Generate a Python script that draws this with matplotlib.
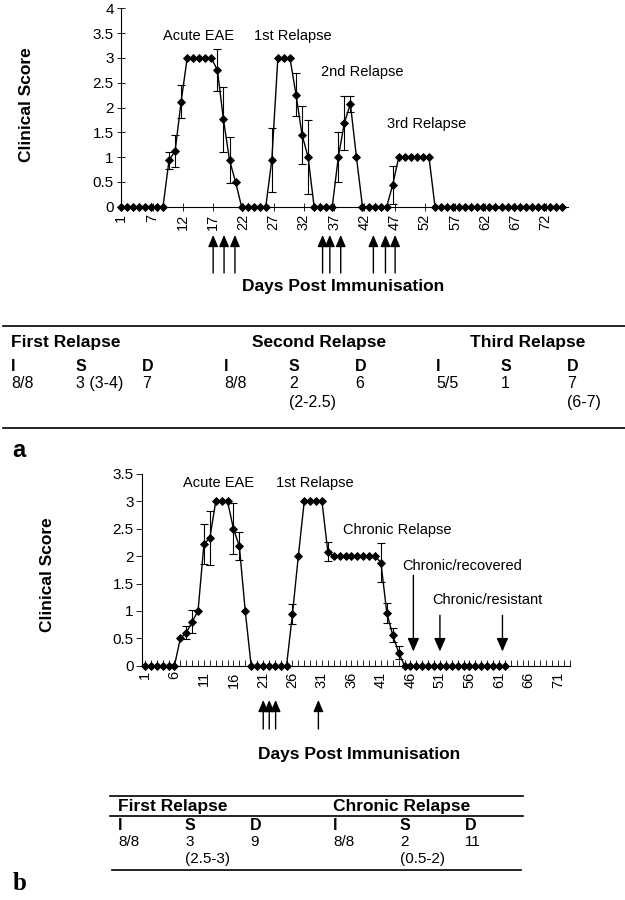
import matplotlib
matplotlib.use("Agg")
import matplotlib.pyplot as plt
import numpy as np
from matplotlib.lines import Line2D

plt.rcParams['font.family'] = ['Liberation Sans', 'DejaVu Sans']

# ---- panel a : mean clinical score, one point per day ----
score_a = ([0] * 8 + [0.94, 1.12, 2.12] + [3] * 5 + [2.75, 1.76, 0.94, 0.5] +
           [0] * 5 + [0.94] + [3] * 3 + [2.26, 1.45, 1.0] + [0] * 4 +
           [1.0, 1.69, 2.07, 1.0] + [0] * 5 + [0.44] + [1.0] * 6 + [0] * 22)
err_day_a = [9, 10, 11, 17, 18, 19, 26, 30, 31, 32, 37, 38, 39, 46]
err_val_a = [0.17, 0.32, 0.33, 0.42, 0.65, 0.47, 0.64, 0.43, 0.58, 0.75, 0.5, 0.55, 0.16, 0.39]
xlabels_a = ['1', '7', '12', '17', '22', '27', '32', '37', '42', '47', '52', '57', '62', '67', '72']
arrows_a = [16.3, 18.1, 19.9, 34.4, 35.6, 37.4, 42.8, 44.8, 46.4]
notes_a = [('Acute EAE', 13.8, 3.44), ('1st Relapse', 29.4, 3.44),
           ('2nd Relapse', 41.0, 2.72), ('3rd Relapse', 51.6, 1.67)]

# ---- panel b ----
score_b = ([0] * 6 + [0.5, 0.6, 0.8, 1.0, 2.22, 2.33] + [3] * 3 + [2.5, 2.18, 1.0] +
           [0] * 7 + [0.94, 2.0] + [3] * 4 + [2.08] + [2.0] * 8 +
           [1.88, 0.96, 0.56, 0.24] + [0] * 18)
err_day_b = [8, 9, 11, 12, 16, 17, 26, 32, 41, 42, 43, 44]
err_val_b = [0.12, 0.21, 0.36, 0.49, 0.46, 0.26, 0.18, 0.17, 0.35, 0.18, 0.12, 0.12]
xlabels_b = [str(d) for d in range(1, 72, 5)]
arrows_up_b = [21.05, 22.07, 23.15, 30.4]
arrows_down_b = [(46.5, 1.65), (51.0, 0.92), (61.6, 0.92)]
notes_b = [('Acute EAE', 13.4, 3.33), ('1st Relapse', 29.8, 3.33),
           ('Chronic Relapse', 43.8, 2.48), ('Chronic/recovered', 54.7, 1.82),
           ('Chronic/resistant', 59.1, 1.19)]

# tables
tab_a_head = ['First Relapse', 'Second Relapse', 'Third Relapse']
tab_a_vals = [['8/8', '3 (3-4)', '7'], ['8/8', '2\n(2-2.5)', '6'], ['5/5', '1', '7\n(6-7)']]
tab_b_head = ['First Relapse', 'Chronic Relapse']
tab_b_vals = [['8/8', '3\n(2.5-3)', '9'], ['8/8', '2\n(0.5-2)', '11']]

W, H = 625, 900
fig = plt.figure(figsize=(6.25, 9), dpi=100)


def fx(px):
    return px / W


def fy(py):
    return 1 - py / H


def fmt(v):
    return ('%g' % v)


def draw_series(ax, score, err_day, err_val):
    days = np.arange(1, len(score) + 1)
    ax.plot(days, score, color='black', lw=1.0, marker='D', ms=3.7, mew=0.6,
            clip_on=False, zorder=3)
    ey = [score[d - 1] for d in err_day]
    ax.errorbar(err_day, ey, yerr=err_val, fmt='none', ecolor='black',
                elinewidth=0.8, capsize=3, capthick=0.8, clip_on=False, zorder=2)
    for s in ['top', 'right']:
        ax.spines[s].set_visible(False)
    for s in ['left', 'bottom']:
        ax.spines[s].set_linewidth(0.8)


# ---------------- panel a ----------------
axa = fig.add_axes([fx(120.7), fy(206.7), fx(568 - 120.7), (206.7 - 8.3) / H])
draw_series(axa, score_a, err_day_a, err_val_a)
axa.set_xlim(1, 75)
axa.set_ylim(0, 4)
yt = np.arange(0, 4.01, 0.5)
axa.set_yticks(yt)
axa.set_yticklabels([fmt(v) for v in yt], fontsize=11)
xpos = [1] + [int(l) - 0.7 for l in xlabels_a[1:]]
axa.set_xticks(xpos)
axa.set_xticklabels(xlabels_a, rotation=90, fontsize=10.5)
axa.tick_params(axis='both', direction='inout', length=6, width=0.6, pad=2)
for txt, x, y in notes_a:
    axa.text(x, y, txt, ha='center', va='center', fontsize=10.5)
for d in arrows_a:
    axa.annotate('', xy=(d, fy(235)), xytext=(d, fy(273)),
                 xycoords=('data', 'figure fraction'),
                 textcoords=('data', 'figure fraction'), annotation_clip=False,
                 arrowprops=dict(arrowstyle='-|>,head_length=0.7,head_width=0.3',
                                 color='black', lw=1.0, shrinkA=0, shrinkB=0))
fig.text(fx(343), fy(287), 'Days Post Immunisation', ha='center', va='center',
         fontsize=12.5, fontweight='bold')
fig.text(fx(27), fy(105), 'Clinical Score', ha='center', va='center',
         rotation=90, fontsize=12.5, fontweight='bold')

# ---------------- panel b ----------------
axb = fig.add_axes([fx(142), fy(665.7), fx(570 - 142), (665.7 - 473.9) / H])
draw_series(axb, score_b, err_day_b, err_val_b)
axb.set_xlim(0.5, 73.05)
axb.set_ylim(0, 3.5)
yt = np.arange(0, 3.51, 0.5)
axb.set_yticks(yt)
axb.set_yticklabels([fmt(v) for v in yt], fontsize=11)
axb.set_xticks([int(l) for l in xlabels_b])
axb.set_xticklabels(xlabels_b, rotation=90, fontsize=10.5)
axb.set_xticks(np.arange(1, 74), minor=True)
axb.tick_params(axis='x', which='both', direction='in', length=4, width=0.6, pad=4)
axb.tick_params(axis='y', direction='out', length=4, width=0.6, pad=2)
for txt, x, y in notes_b:
    axb.text(x, y, txt, ha='center', va='center', fontsize=10.5)
for d in arrows_up_b:
    axb.annotate('', xy=(d, fy(700)), xytext=(d, fy(729)),
                 xycoords=('data', 'figure fraction'),
                 textcoords=('data', 'figure fraction'), annotation_clip=False,
                 arrowprops=dict(arrowstyle='-|>,head_length=0.7,head_width=0.3',
                                 color='black', lw=1.0, shrinkA=0, shrinkB=0))
for d, y0 in arrows_down_b:
    axb.annotate('', xy=(d, 0.26), xytext=(d, y0), annotation_clip=False,
                 arrowprops=dict(arrowstyle='-|>,head_length=0.8,head_width=0.35',
                                 color='black', lw=1.0, shrinkA=0, shrinkB=0))
fig.text(fx(359), fy(755), 'Days Post Immunisation', ha='center', va='center',
         fontsize=12.5, fontweight='bold')
fig.text(fx(48), fy(575), 'Clinical Score', ha='center', va='center',
         rotation=90, fontsize=12.5, fontweight='bold')


# ---------------- tables ----------------
def hline(x0, x1, py, lw=1.2):
    fig.add_artist(Line2D([fx(x0), fx(x1)], [fy(py), fy(py)], color='black', lw=lw))


# table a
hline(3, 625, 326)
hline(3, 625, 428)
group_x_a = [11, 224, 436]
head_x_a = [11, 252, 470]
col_dx = [0, 65, 131]
for g, h in enumerate(tab_a_head):
    fig.text(fx(head_x_a[g]), fy(342), h, ha='left', va='center',
             fontsize=12.5, fontweight='bold')
    for c, lab in enumerate(['I', 'S', 'D']):
        x = group_x_a[g] + col_dx[c]
        fig.text(fx(x), fy(366), lab, ha='left', va='center',
                 fontsize=11.5, fontweight='bold')
        fig.text(fx(x), fy(376), tab_a_vals[g][c], ha='left', va='top',
                 fontsize=11.5, linespacing=1.35)
fig.text(fx(12), fy(451), 'a', ha='left', va='center', fontsize=17,
         fontweight='bold')

# table b
hline(110, 523, 796)
hline(110, 523, 816)
hline(112, 521, 870)
group_x_b = [118, 333]
col_dx_b = [0, 67, 132]
for g, h in enumerate(tab_b_head):
    fig.text(fx(group_x_b[g]), fy(806), h, ha='left', va='center',
             fontsize=12.5, fontweight='bold')
    for c, lab in enumerate(['I', 'S', 'D']):
        x = group_x_b[g] + col_dx_b[c]
        fig.text(fx(x), fy(826), lab, ha='left', va='center',
                 fontsize=11.5, fontweight='bold')
        fig.text(fx(x), fy(835), tab_b_vals[g][c], ha='left', va='top',
                 fontsize=11, linespacing=1.3)
fig.text(fx(13), fy(884), 'b', ha='left', va='center', fontsize=18,
         fontweight='bold', family=['Liberation Serif', 'DejaVu Serif'])

fig.savefig('out.png', dpi=100)
